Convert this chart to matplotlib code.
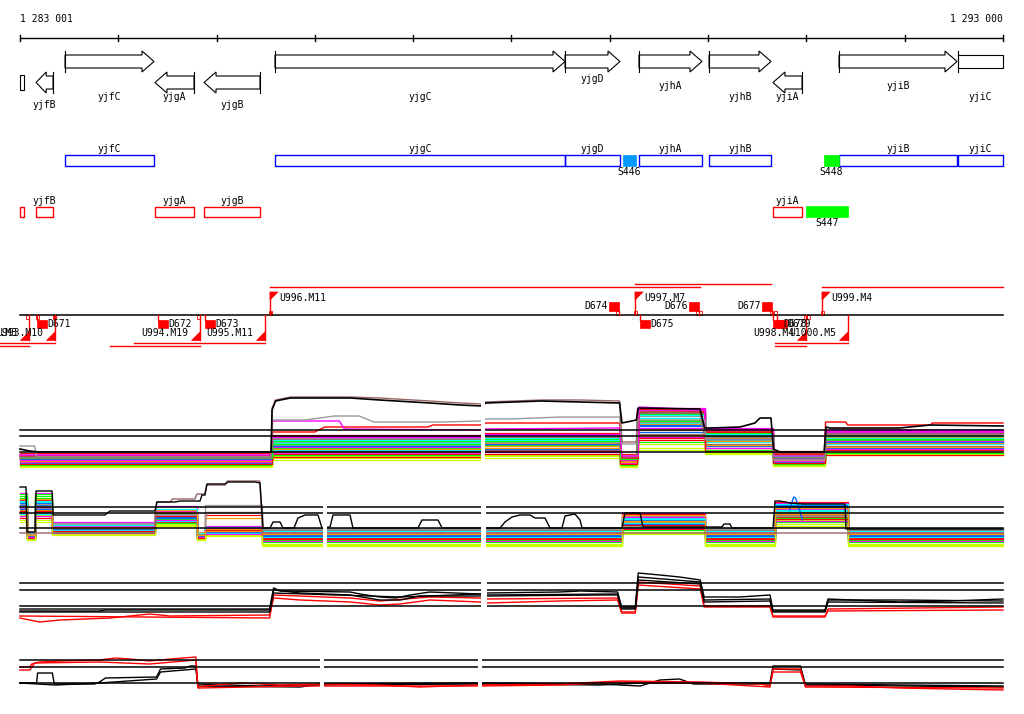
import numpy as np
import matplotlib
matplotlib.use("Agg")
import matplotlib.pyplot as plt
from matplotlib.patches import Rectangle, Polygon

# ---- region shown (bp) ----
START, END = 1283001, 1293000
tick_pos = [1284000, 1285000, 1286000, 1287000, 1288000, 1289000, 1290000, 1291000, 1292000]

# ---- genes ----
gene_names = ['', 'yjfB', 'yjfC', 'yjgA', 'yjgB', 'yjgC', 'yjgD', 'yjhA', 'yjhB', 'yjiA', 'yjiB', 'yjiC']
gene_start = [1283001, 1283164, 1283459, 1284374, 1284873, 1285595, 1288545, 1289297, 1290010, 1290660, 1291332, 1292542]
gene_end = [1283042, 1283337, 1284364, 1284771, 1285442, 1288545, 1289104, 1289938, 1290640, 1290956, 1292532, 1293000]
gene_strand = [-1, -1, 1, -1, -1, 1, 1, 1, 1, -1, 1, 1]

# ---- other features ----
feat_names = ['S446', 'S448', 'S447']
feat_start = [1289135, 1291179, 1290996]
feat_end = [1289267, 1291332, 1291423]
feat_strand = [1, 1, -1]
feat_colors = ['#0099ff', '#00ff00', '#00ff00']

# ---- transcription units ----
tu_names = ['U992.M3', 'U993.M10', 'U994.M19', 'U995.M11', 'U996.M11', 'U997.M7', 'U998.M4', 'U999.M4', 'U1000.M5']
tu_start = [1282700, 1282700, 1283916, 1284161, 1285544, 1289257, 1290681, 1291159, 1290681]
tu_end = [1283093, 1283357, 1284832, 1285493, 1289918, 1290640, 1290996, 1293000, 1291424]
tu_strand = [-1, -1, -1, -1, 1, 1, -1, 1, -1]

# ---- terminators ----
term_names = ['D671', 'D672', 'D673', 'D674', 'D675', 'D676', 'D677', 'D678', 'D679']
term_pos = [1283174, 1284405, 1284883, 1289094, 1289307, 1289907, 1290650, 1290660, 1290700]
term_strand = [-1, -1, -1, 1, -1, 1, 1, -1, -1]

# small sites on the transcript axis
site_pos = [1283082, 1283174, 1283357, 1284812, 1285544, 1289074, 1289257, 1289888, 1289918, 1290650, 1290681, 1290986, 1291017, 1291169]
site_strand = [-1, -1, -1, -1, 1, 1, 1, 1, 1, 1, 1, -1, -1, 1]
site_filled = [0, 0, 1, 0, 1, 0, 0, 0, 0, 0, 0, 0, 0, 0]

# ---- expression panel 1 (positions in kb) ----
p1_edges = [1283.00, 1285.56, 1287.71, 1289.10, 1289.28, 1289.97, 1290.66, 1291.19, 1293.00]
p1_cols = [0, 1, 2, 3, 4, 5, 6, 7]
p1_band = [
    [14, 30, 33, 12, 58, 38, 16, 36],
    [10, 22, 25, 9, 50, 30, 13, 30],
    [16, 26, 28, 15, 44, 34, 18, 28],
    [12, 34, 35, 11, 60, 40, 12, 38],
    [8, 20, 22, 7, 47, 28, 10, 26],
    [4, 14, 15, 4, 22, 18, 5, 16],
    [13, 24, 27, 13, 40, 32, 15, 33],
    [15, 28, 31, 14, 54, 36, 17, 34],
    [11, 18, 20, 10, 36, 26, 12, 24],
    [9, 16, 19, 8, 30, 22, 9, 20],
    [13, 29, 31, 12, 56, 37, 15, 35],
    [7, 19, 21, 6, 38, 24, 8, 22],
    [15, 23, 26, 13, 42, 31, 14, 29],
    [12, 27, 30, 11, 52, 35, 13, 32],
    [6, 12, 14, 5, 26, 17, 7, 18],
    [10, 21, 24, 9, 46, 29, 11, 27],
    [14, 25, 28, 12, 48, 33, 14, 31],
    [12, 31, 33, 14, 57, 39, 16, 37],
    [17, 35, 37, 16, 61, 41, 19, 40],
    [5, 15, 16, 5, 28, 20, 6, 17],
    [11, 24, 26, 10, 45, 31, 12, 28],
    [8, 17, 18, 7, 33, 22, 9, 21],
    [14, 30, 32, 13, 55, 36, 14, 34],
    [3, 10, 12, 3, 20, 16, 4, 15],
    [9, 18, 22, 8, 35, 25, 10, 23],
    [16, 32, 34, 15, 59, 39, 17, 36],
    [10, 33, 36, 10, 62, 42, 11, 39],
    [6, 13, 16, 6, 32, 19, 7, 15],
    [12, 26, 29, 11, 49, 34, 13, 31],
]
p1_band_colors = ['#ff0000', '#00ff00', '#0066ff', '#ff00ff', '#00ffff', '#ccff00', '#ff9900', '#999999', '#996666',
                  '#ff0000', '#00ff00', '#0066ff', '#ff00ff', '#00ffff', '#ccff00', '#ff9900', '#999999', '#996666',
                  '#ff0000', '#00ff00', '#0066ff', '#ff00ff', '#00ffff', '#ccff00', '#ff9900', '#999999', '#ff00ff',
                  '#ff0000', '#00ff00']
p1_black_x = [1283.00, 1283.10, 1283.20, 1285.555, 1285.565, 1285.60, 1285.75, 1286.36, 1286.66, 1287.17,
              1287.48, 1287.70, 1287.74, 1288.30, 1288.70, 1289.10, 1289.124, 1289.27, 1289.29, 1289.918,
              1289.965, 1290.02, 1290.325, 1290.477, 1290.528, 1290.64, 1290.665, 1290.732, 1291.18, 1291.20,
              1291.241, 1291.95, 1292.26, 1293.00]
p1_black_y = [21, 19, 18, 18, 60, 69, 72, 72, 70, 67, 65, 64, 67, 69, 68, 67, 47, 50, 62, 61,
              42, 42, 43, 47, 52, 52, 21, 18, 18, 43, 42, 42, 45, 44]
p1_brown_x = [1283.00, 1285.555, 1285.565, 1285.60, 1285.75, 1286.36, 1286.66, 1287.17, 1287.48, 1287.70,
              1287.74, 1288.30, 1288.70, 1289.10, 1289.124, 1289.27, 1289.29, 1289.918, 1289.965, 1290.66,
              1290.665, 1291.18, 1291.20, 1293.00]
p1_brown_y = [12, 12, 62, 70, 73, 73, 72, 69, 67, 66, 68, 70, 70, 69, 28, 28, 58, 57, 33, 33, 12, 12, 36, 36]
p1_gray_x = [1283.00, 1283.15, 1283.17, 1285.555, 1285.57, 1285.90, 1286.20, 1286.45, 1286.60, 1287.30,
             1287.70, 1287.74, 1288.00, 1288.50, 1289.10, 1289.124, 1289.27, 1289.29, 1289.965, 1289.975,
             1290.66, 1290.665, 1291.185, 1291.195, 1293.00]
p1_gray_y = [24, 24, 13, 13, 50, 50, 54, 54, 48, 48, 49, 51, 51, 53, 53, 26, 26, 50, 50, 30, 30, 10, 10, 34, 34]
p1_magenta_x = [1283.00, 1285.555, 1285.57, 1286.25, 1286.30, 1287.70, 1287.74, 1289.10, 1289.124, 1289.29,
                1289.30, 1289.965, 1289.975, 1290.66, 1290.67, 1291.185, 1291.195, 1293.00]
p1_magenta_y = [15, 15, 49, 49, 41, 40, 41, 42, 14, 14, 63, 60, 40, 40, 14, 14, 40, 40]
p1_red_x = [1283.00, 1285.555, 1285.57, 1286.00, 1286.10, 1287.15, 1287.20, 1287.70, 1287.74, 1289.10,
            1289.124, 1289.29, 1289.30, 1289.965, 1289.975, 1290.66, 1290.67, 1291.185, 1291.195, 1291.40,
            1291.42, 1292.26, 1292.28, 1293.00]
p1_red_y = [14, 14, 38, 38, 43, 43, 45, 45, 47, 47, 12, 12, 58, 58, 38, 38, 16, 16, 48, 48, 45, 45, 47, 47]

# ---- expression panel 2 ----
p2_edges = [1283.00, 1283.07, 1283.15, 1283.33, 1284.37, 1284.80, 1284.88, 1285.46, 1289.12, 1289.97, 1290.68, 1291.42, 1293.00]
p2_cols = [0, 1, 0, 2, 3, 1, 4, 5, 6, 5, 7, 5]
p2_band = [
    [60, 26, 36, 48, 45, 30, 46, 58],
    [64, 22, 30, 42, 30, 24, 35, 52],
    [55, 28, 33, 45, 29, 27, 40, 55],
    [67, 24, 38, 54, 34, 31, 47, 57],
    [58, 25, 31, 44, 28, 26, 42, 49],
    [45, 20, 27, 36, 26, 14, 28, 40],
    [50, 27, 34, 40, 42, 29, 38, 48],
    [52, 23, 37, 46, 55, 32, 44, 47],
    [48, 26, 35, 47, 48, 30, 36, 45],
    [42, 21, 28, 38, 27, 22, 31, 43],
    [62, 24, 29, 41, 28, 18, 33, 38],
    [57, 27, 32, 43, 30, 25, 39, 53],
    [53, 25, 34, 49, 32, 28, 43, 51],
    [46, 23, 30, 39, 27, 23, 37, 50],
    [40, 21, 26, 35, 25, 16, 26, 36],
    [61, 28, 33, 50, 31, 27, 45, 46],
    [56, 26, 36, 45, 48, 31, 34, 44],
    [66, 22, 28, 37, 29, 20, 30, 42],
    [51, 24, 31, 42, 28, 24, 36, 54],
    [44, 23, 27, 40, 26, 19, 32, 39],
    [59, 27, 35, 51, 33, 29, 41, 56],
    [49, 22, 29, 44, 30, 21, 35, 41],
    [38, 20, 25, 34, 24, 15, 27, 34],
    [54, 25, 32, 48, 29, 26, 39, 52],
]
p2_band_colors = ['#ff0000', '#00ff00', '#0066ff', '#ff00ff', '#00ffff', '#ccff00', '#ff9900', '#999999', '#996666',
                  '#ff0000', '#00ff00', '#0066ff', '#ff00ff', '#00ffff', '#ccff00', '#ff9900', '#999999', '#00ff00',
                  '#0066ff', '#ff00ff', '#00ffff', '#ff0000', '#ccff00', '#ff9900']
p2_black_x = [1283.001, 1283.062, 1283.072, 1283.154, 1283.164, 1283.327, 1283.337, 1283.866, 1283.916, 1284.374,
              1284.395, 1284.578, 1284.629, 1284.832, 1284.852, 1284.883, 1284.903, 1285.086, 1285.117, 1285.391,
              1285.442, 1285.473, 1285.544, 1285.575, 1285.646, 1285.676, 1285.788, 1285.829, 1285.900, 1286.032,
              1286.073, 1286.154, 1286.185, 1286.358, 1286.388, 1287.049, 1287.090, 1287.253, 1287.294, 1287.884,
              1287.934, 1288.006, 1288.087, 1288.189, 1288.240, 1288.341, 1288.392, 1288.514, 1288.545, 1288.646,
              1288.697, 1288.718, 1289.125, 1289.155, 1289.308, 1289.338, 1290.142, 1290.162, 1290.223, 1290.243,
              1290.661, 1290.681, 1290.732, 1290.833, 1290.966, 1291.393, 1291.403, 1293.000]
p2_black_y = [73, 73, 28, 28, 69, 69, 45, 45, 49, 49,
              58, 58, 59, 59, 65, 65, 76, 76, 78, 78,
              77, 32, 32, 38, 38, 32, 32, 42, 45, 45,
              32, 33, 45, 45, 32, 32, 40, 40, 32, 32,
              38, 43, 45, 45, 42, 42, 32, 32, 44, 46,
              40, 32, 32, 47, 47, 33, 33, 36, 36, 32,
              32, 59, 59, 57, 56, 56, 31, 31]
p2_brown_x = [1283.00, 1284.37, 1284.39, 1284.53, 1284.55, 1284.78, 1284.80, 1284.88, 1284.90, 1285.09, 1285.11, 1285.44, 1285.47, 1293.00]
p2_brown_y = [27, 27, 58, 58, 61, 61, 66, 66, 75, 75, 79, 79, 27, 27]
p2_spike_x = [1290.83, 1290.87, 1290.89, 1290.93, 1290.96]
p2_spike_y = [50, 63, 62, 50, 40]

# ---- expression panel 3 ----
p3_black_a_x = [1283.00, 1285.54, 1285.58, 1285.65, 1286.36, 1286.46, 1286.66, 1286.82, 1286.97, 1287.17,
                1287.68, 1287.75, 1288.49, 1288.70, 1289.08, 1289.12, 1289.26, 1289.29, 1289.51, 1289.71,
                1289.92, 1289.96, 1290.32, 1290.63, 1290.66, 1291.19, 1291.22, 1291.95, 1292.46, 1293.00]
p3_black_a_y = [31, 31, 52, 49, 48, 46, 43, 42, 45, 48, 46, 47, 48, 49, 48, 33, 33, 67, 65, 63,
                60, 43, 43, 45, 30, 30, 41, 38, 39, 41]
p3_black_b_x = [1283.00, 1283.81, 1283.87, 1285.54, 1285.58, 1285.85, 1286.36, 1286.66, 1286.87, 1287.07,
                1287.68, 1287.75, 1288.90, 1289.08, 1289.12, 1289.26, 1289.29, 1289.92, 1289.96, 1290.63,
                1290.66, 1291.19, 1291.22, 1293.00]
p3_black_b_y = [29, 29, 30, 30, 50, 47, 45, 40, 40, 44, 44, 44, 45, 45, 31, 31, 63, 58, 40, 41, 28, 28, 38, 37]
p3_black_c_x = [1283.00, 1285.54, 1285.58, 1286.87, 1287.68, 1287.75, 1289.08, 1289.12, 1289.26, 1289.29,
                1289.92, 1289.96, 1290.63, 1290.66, 1291.19, 1291.22, 1291.95, 1293.00]
p3_black_c_y = [28, 28, 47, 43, 46, 45, 46, 32, 32, 60, 56, 38, 39, 29, 29, 40, 40, 39]
p3_red_a_x = [1283.00, 1283.20, 1283.41, 1283.92, 1284.32, 1284.53, 1285.54, 1285.58, 1285.85, 1286.36,
              1286.66, 1286.87, 1287.17, 1287.68, 1287.75, 1288.49, 1289.08, 1289.12, 1289.26, 1289.29,
              1289.92, 1289.96, 1290.63, 1290.66, 1291.19, 1291.22, 1293.00]
p3_red_a_y = [22, 18, 20, 22, 26, 24, 25, 42, 40, 38, 35, 36, 40, 38, 37, 39, 40, 27, 27, 55,
              51, 33, 33, 23, 23, 31, 33]
p3_red_b_x = [1283.00, 1285.54, 1285.58, 1286.36, 1286.66, 1287.17, 1287.68, 1287.75, 1289.08, 1289.12,
              1289.26, 1289.29, 1289.92, 1289.96, 1290.63, 1290.66, 1291.19, 1291.22, 1293.00]
p3_red_b_y = [24, 22, 45, 42, 39, 43, 42, 41, 42, 28, 28, 58, 54, 34, 34, 24, 24, 29, 30]

# ---- expression panel 4 ----
p4_red_a_x = [1283.00, 1283.10, 1283.12, 1283.20, 1283.41, 1283.81, 1283.97, 1284.12, 1284.32, 1284.53,
              1284.79, 1284.81, 1284.88, 1285.24, 1285.65, 1286.07, 1286.66, 1287.07, 1287.65, 1288.49,
              1289.10, 1289.92, 1290.53, 1290.63, 1290.66, 1290.94, 1290.99, 1291.44, 1291.95, 1292.46, 1293.00]
p4_red_a_y = [47, 47, 50, 52, 53, 54, 56, 55, 53, 55, 57, 27, 28, 31, 29, 30, 29, 27, 29, 30,
              33, 32, 30, 28, 42, 42, 28, 28, 26, 25, 24]
p4_red_b_x = [1283.00, 1283.10, 1283.15, 1283.81, 1284.32, 1284.79, 1284.81, 1285.85, 1287.68, 1288.49,
              1289.10, 1289.92, 1290.63, 1290.66, 1290.94, 1290.99, 1293.00]
p4_red_b_y = [44, 44, 51, 52, 50, 54, 26, 28, 28, 29, 32, 31, 27, 45, 45, 27, 26]
p4_black_a_x = [1283.00, 1283.17, 1283.18, 1283.33, 1283.35, 1283.76, 1283.81, 1283.87, 1284.39, 1284.43,
                1284.68, 1284.73, 1284.79, 1284.81, 1285.85, 1286.07, 1287.68, 1288.90, 1289.31, 1289.51,
                1289.71, 1289.85, 1290.63, 1290.66, 1290.94, 1290.99, 1293.00]
p4_black_a_y = [31, 31, 41, 41, 30, 30, 32, 36, 37, 45, 46, 48, 48, 28, 27, 30, 31, 30, 28, 34,
                35, 30, 30, 48, 48, 29, 27]
p4_black_b_x = [1283.00, 1283.36, 1283.81, 1284.39, 1284.43, 1284.79, 1284.81, 1285.44, 1285.85, 1287.68,
                1288.90, 1289.31, 1289.71, 1290.63, 1290.66, 1290.94, 1290.99, 1293.00]
p4_black_b_y = [31, 29, 31, 35, 42, 45, 30, 28, 29, 30, 29, 31, 31, 31, 45, 44, 30, 28]

# ================= layout =================
W, H = 1024, 714
X0, X1 = 20, 1003
BP_PX = (END - START) / (X1 - X0)
XLIM = (START - X0 * BP_PX, START + (W - X0) * BP_PX)
FONT = dict(fontfamily='DejaVu Sans Mono', fontsize=7, color='black')

fig = plt.figure(figsize=(10.24, 7.14), dpi=100)
fig.patch.set_facecolor('white')
ax = fig.add_axes([0, 0, 1, 1])
ax.set_xlim(XLIM)
ax.set_ylim(H, 0)
ax.axis('off')

# scale bar
ax.plot([START, END], [38, 38], color='black', lw=1)
for t in [START] + tick_pos + [END]:
    ax.plot([t, t], [35, 41], color='black', lw=1)
ax.text(START, 19, '1 283 001', ha='left', va='center', **FONT)
ax.text(END, 19, '1 293 000', ha='right', va='center', **FONT)

# gene arrows
label_rows = [None, 105, 97, 97, 105, 97, 79, 86, 97, 97, 86, 97]
for name, s, e, st, lr in zip(gene_names, gene_start, gene_end, gene_strand, label_rows):
    if st == 1:
        y0, y1, h0, h1 = 55, 68, 51, 72
    else:
        y0, y1, h0, h1 = 76, 89, 72, 93
    mid = (h0 + h1) / 2
    head = min(12 * BP_PX, 0.6 * (e - s))
    if e >= END:
        ax.add_patch(Rectangle((s, y0), e - s, y1 - y0, fill=False, ec='black', lw=0.8))
        ax.plot([s, s], [h0, h1], color='black', lw=0.8)
    elif s <= START:
        ax.add_patch(Rectangle((s, y0 - 1), e - s, y1 - y0 + 2, fill=False, ec='black', lw=0.8))
    elif st == 1:
        pts = [(s, y0), (e - head, y0), (e - head, h0), (e, mid), (e - head, h1), (e - head, y1), (s, y1)]
        ax.add_patch(Polygon(pts, closed=True, fill=False, ec='black', lw=0.8))
        ax.plot([s, s], [h0, h1], color='black', lw=0.8)
    else:
        pts = [(e, y0), (s + head, y0), (s + head, h0), (s, mid), (s + head, h1), (s + head, y1), (e, y1)]
        ax.add_patch(Polygon(pts, closed=True, fill=False, ec='black', lw=0.8))
        ax.plot([e, e], [h0, h1], color='black', lw=0.8)
    if name:
        ax.text((s + e) / 2, lr, name, ha='center', va='center', **FONT)

# gene boxes
for name, s, e, st in zip(gene_names, gene_start, gene_end, gene_strand):
    if st == 1:
        ax.add_patch(Rectangle((s, 155), e - s, 11, fill=False, ec='#0000ff', lw=1.0))
        ax.text((s + e) / 2, 149, name, ha='center', va='center', **FONT)
    else:
        ax.add_patch(Rectangle((s, 207), e - s, 10, fill=False, ec='#ff0000', lw=1.0))
        if name:
            ax.text((s + e) / 2, 201, name, ha='center', va='center', **FONT)

for name, s, e, st, c in zip(feat_names, feat_start, feat_end, feat_strand, feat_colors):
    top = 155 if st == 1 else 206
    ax.add_patch(Rectangle((s, top), e - s, 11, fc=c, ec=c, lw=0.5))
    ax.text((s + e) / 2, top + 17, name, ha='center', va='center', **FONT)

# transcription units
RED = '#ff0000'
ax.plot([START, END], [315, 315], color='black', lw=1.1)
lanes = [1, 0, 1, 0, 0, 1, 1, 0, 0]
for name, s, e, st, ln in zip(tu_names, tu_start, tu_end, tu_strand, lanes):
    if st == 1:
        row = 287 - 3 * ln
        ax.plot([s, e], [row, row], color=RED, lw=1)
        ax.plot([s, s], [315, 292], color=RED, lw=1)
        ax.add_patch(Polygon([(s, 292), (s + 8 * BP_PX, 292), (s, 300)], closed=True, fc=RED, ec=RED, lw=0.5))
        ax.text(s + 9 * BP_PX, 298, name, ha='left', va='center', **FONT)
    else:
        row = 343 + 3 * ln
        ax.plot([s, e], [row, row], color=RED, lw=1)
        ax.plot([e, e], [315, 340], color=RED, lw=1)
        ax.add_patch(Polygon([(e, 331), (e, 340), (e - 9 * BP_PX, 340)], closed=True, fc=RED, ec=RED, lw=0.5))
        ax.text(e - 12 * BP_PX, 333, name, ha='right', va='center', **FONT)

for name, p, st in zip(term_names, term_pos, term_strand):
    sq = 10 * BP_PX
    if st == 1:
        ax.add_patch(Rectangle((p - sq, 302), sq, 9, fc=RED, ec=RED, lw=0.5))
        ax.plot([p, p], [311, 315], color=RED, lw=1)
        ax.text(p - sq - 1.5 * BP_PX, 306, name, ha='right', va='center', **FONT)
    else:
        ax.add_patch(Rectangle((p, 320), sq, 8, fc=RED, ec=RED, lw=0.5))
        ax.plot([p, p], [315, 320], color=RED, lw=1)
        ax.text(p + sq, 324, name, ha='left', va='center', **FONT)

for p, st, f in zip(site_pos, site_strand, site_filled):
    top = 311 if st == 1 else 315
    ax.add_patch(Rectangle((p - 1.5 * BP_PX, top), 3 * BP_PX, 4, fill=bool(f), fc=RED, ec=RED, lw=0.6))


# ================= expression panels =================
def panel(top, bottom, refs, gaps):
    a = fig.add_axes([0, 1 - bottom / H, 1, (bottom - top) / H])
    a.set_xlim(XLIM)
    a.set_ylim(0, bottom - top)
    a.axis('off')
    a.patch.set_alpha(0)
    for r in refs:
        a.plot([START, END], [r, r], color='black', lw=1.1, zorder=4)
    for g0, g1 in gaps:
        a.axvspan(g0 * 1000, g1 * 1000, color='white', lw=0, zorder=6)
    return a


def band(a, edges, cols, table, colors):
    for vals, c in zip(table, colors):
        xs, ys = [], []
        for i, col in enumerate(cols):
            xs += [edges[i] * 1000, edges[i + 1] * 1000]
            ys += [vals[col], vals[col]]
        a.plot(xs, ys, color=c, lw=0.9)


def line(a, x, y, c, lw=1.0):
    a.plot(np.array(x) * 1000, y, color=c, lw=lw, zorder=3)


a1 = panel(380, 470, [40, 34, 18], [(1287.69, 1287.73)])
band(a1, p1_edges, p1_cols, p1_band, p1_band_colors)
line(a1, p1_red_x, p1_red_y, '#ff0000')
line(a1, p1_magenta_x, p1_magenta_y, '#ff00ff')
line(a1, p1_gray_x, p1_gray_y, '#999999')
line(a1, p1_brown_x, p1_brown_y, '#996666')
line(a1, p1_black_x, p1_black_y, 'black', 1.2)

a2 = panel(470, 560, [53, 47, 32], [(1286.08, 1286.12), (1287.69, 1287.74)])
band(a2, p2_edges, p2_cols, p2_band, p2_band_colors)
line(a2, p2_spike_x, p2_spike_y, '#0066ff')
line(a2, p2_brown_x, p2_brown_y, '#996666')
line(a2, p2_black_x, p2_black_y, 'black')

a3 = panel(560, 640, [57, 50, 34], [(1287.69, 1287.75)])
line(a3, p3_red_a_x, p3_red_a_y, '#ff0000')
line(a3, p3_red_b_x, p3_red_b_y, '#ff0000')
line(a3, p3_black_a_x, p3_black_a_y, 'black')
line(a3, p3_black_b_x, p3_black_b_y, 'black')
line(a3, p3_black_c_x, p3_black_c_y, 'black')

a4 = panel(640, 714, [54, 47, 31], [(1286.05, 1286.09), (1287.66, 1287.70)])
line(a4, p4_black_a_x, p4_black_a_y, 'black')
line(a4, p4_black_b_x, p4_black_b_y, 'black')
line(a4, p4_red_a_x, p4_red_a_y, '#ff0000')
line(a4, p4_red_b_x, p4_red_b_y, '#ff0000')

fig.savefig('out.png', dpi=100)
